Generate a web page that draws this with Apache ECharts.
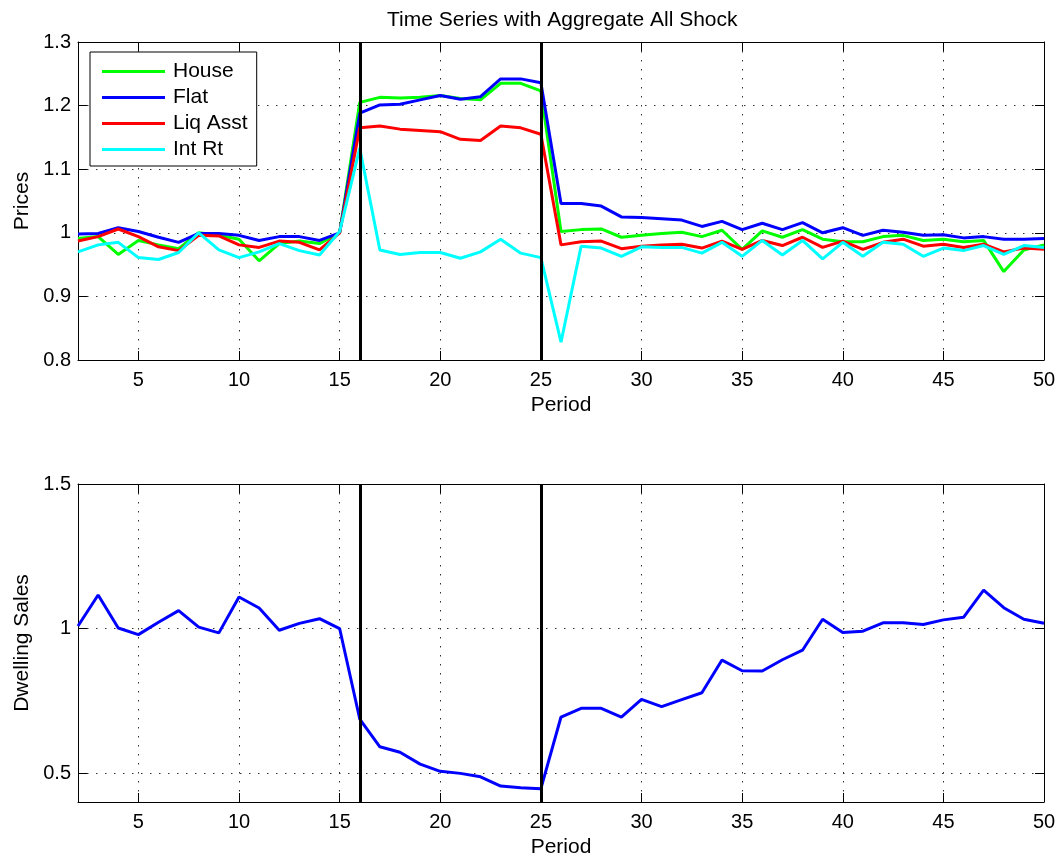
<!DOCTYPE html>
<html>
<head>
<meta charset="utf-8">
<script src="https://cdn.jsdelivr.net/npm/echarts@6/dist/echarts.min.js"></script>
<style>html,body{margin:0;padding:0;background:#fff}#c{width:1062px;height:860px}</style>
</head>
<body>
<div id="c"></div>
<script>
const periods = [2,3,4,5,6,7,8,9,10,11,12,13,14,15,16,17,18,19,20,21,22,23,24,25,26,27,28,29,30,31,32,33,34,35,36,37,38,39,40,41,42,43,44,45,46,47,48,49,50];
const house = [0.991,0.994,0.966,0.988,0.981,0.975,1.000,0.996,0.990,0.956,0.983,0.987,0.983,1.000,
  1.205,1.213,1.212,1.213,1.216,1.211,1.209,1.235,1.235,1.223,
  1.002,1.005,1.006,0.993,0.996,0.999,1.001,0.994,1.004,
  0.974,1.003,0.993,1.005,0.990,0.986,0.986,0.994,0.996,0.988,0.990,0.986,0.988,0.939,0.973,0.981];
const flat = [0.998,0.999,1.008,1.002,0.993,0.985,0.999,0.999,0.996,0.988,0.994,0.994,0.988,1.000,
  1.188,1.201,1.202,1.209,1.216,1.210,1.214,1.242,1.242,1.236,
  1.046,1.046,1.042,1.025,1.024,1.022,1.020,1.010,1.018,
  1.005,1.015,1.005,1.016,1.000,1.008,0.996,1.004,1.001,0.996,0.997,0.992,0.994,0.990,0.990,0.991];
const liqAsst = [0.987,0.994,1.006,0.994,0.978,0.972,0.996,0.995,0.981,0.977,0.987,0.985,0.973,1.000,
  1.165,1.168,1.163,1.161,1.159,1.147,1.145,1.168,1.165,1.155,
  0.981,0.986,0.987,0.975,0.979,0.981,0.982,0.976,0.987,
  0.974,0.988,0.980,0.993,0.977,0.987,0.974,0.985,0.990,0.979,0.982,0.977,0.982,0.970,0.976,0.974];
const intRt = [0.970,0.981,0.985,0.961,0.958,0.969,1.000,0.973,0.961,0.970,0.983,0.972,0.965,1.002,
  1.133,0.973,0.966,0.969,0.969,0.960,0.970,0.990,0.968,0.961,
  0.828,0.979,0.976,0.963,0.978,0.977,0.977,0.968,0.985,
  0.963,0.988,0.965,0.988,0.959,0.985,0.963,0.985,0.982,0.963,0.976,0.972,0.980,0.966,0.980,0.977];
const dwellingSales = [1.009,1.116,1.002,0.979,1.022,1.062,1.005,0.985,1.109,1.071,0.994,1.018,1.034,1.000,
  0.687,0.591,0.572,0.531,0.506,0.499,0.487,0.455,0.449,0.446,
  0.694,0.724,0.724,0.694,0.755,0.730,0.754,0.778,0.891,
  0.854,0.853,0.892,0.925,1.032,0.986,0.991,1.020,1.020,1.014,1.030,1.039,1.133,1.072,1.032,1.018];
const seriesNames = ['House','Flat','Liq Asst','Int Rt'];
const seriesColors = ['#00ff00','#0000ff','#ff0000','#00ffff'];
const shockPeriods = [16, 25];
const xTicks = [5,10,15,20,25,30,35,40,45,50];
const priceTicks = [0.8,0.9,1,1.1,1.2,1.3];
const salesTicks = [0.5, 1, 1.5];

const FONT = "'Liberation Sans', Arial, Helvetica, sans-serif";
const chart = echarts.init(document.getElementById('c'));

const pairs = arr => periods.map((p, i) => [p, arr[i]]);
const gridLine = {show:true, lineStyle:{color:'#333', type:[1.5,7.5], width:1}};
const axisLine = {show:true, onZero:false, lineStyle:{color:'#000', width:1}};
const tick = (vals) => ({show:true, inside:true, length:9, lineStyle:{color:'#000'}, customValues: vals});
const label = (vals, m) => ({show:true, color:'#000', fontSize:20, fontFamily:FONT, margin:m, customValues: vals});

function xAx(gi, main) {
  return {
    type:'value', gridIndex:gi, min:2, max:50, position: main ? 'bottom' : 'top',
    axisLine, axisTick: tick(xTicks),
    axisLabel: main ? label(xTicks, 10) : {show:false},
    splitLine: main ? gridLine : {show:false},
    name: main ? 'Period' : '', nameLocation:'middle', nameGap:35,
    nameTextStyle:{fontSize:21, color:'#000', fontFamily:FONT}
  };
}
function yAx(gi, main, name, min, max, vals) {
  return {
    type:'value', gridIndex:gi, min, max, position: main ? 'left' : 'right',
    axisLine, axisTick: tick(vals),
    axisLabel: main ? label(vals, 7) : {show:false},
    splitLine: main ? gridLine : {show:false},
    name: main ? name : '', nameLocation:'middle', nameGap:45,
    nameTextStyle:{fontSize:21, color:'#000', fontFamily:FONT}
  };
}

const shockLine = {
  silent:true, symbol:'none', animation:false,
  label:{show:false},
  lineStyle:{color:'#000', width:3, type:'solid'},
  data: shockPeriods.map(p => ({xAxis:p}))
};

const priceArrays = [house, flat, liqAsst, intRt];
const series = priceArrays.map((arr, i) => ({
  name: seriesNames[i], type:'line', xAxisIndex:0, yAxisIndex:0,
  data: pairs(arr), showSymbol:false, symbol:'none',
  lineStyle:{width:3, color:seriesColors[i]}, itemStyle:{color:seriesColors[i]},
  animation:false, z:2
}));
series[series.length-1].markLine = shockLine;
series.push({
  name:'Dwelling Sales', type:'line', xAxisIndex:1, yAxisIndex:1,
  data: pairs(dwellingSales), showSymbol:false, symbol:'none',
  lineStyle:{width:3, color:'#0000ff'}, itemStyle:{color:'#0000ff'},
  animation:false, markLine: shockLine, z:2
});

chart.setOption({
  backgroundColor:'#fff',
  animation:false,
  textStyle:{fontFamily:FONT},
  title:{text:'Time Series with Aggregate All Shock', left:382, top:5,
    textStyle:{fontSize:21, fontWeight:'normal', color:'#000', fontFamily:FONT}},
  legend:{
    data: seriesNames, left:90, top:52, orient:'vertical', icon:'rect',
    itemWidth:63, itemHeight:3, itemGap:5, padding:[9,9,6,12],
    borderColor:'#000', borderWidth:1, backgroundColor:'#fff',
    textStyle:{fontSize:21, color:'#000', fontFamily:FONT, padding:[0,0,0,3]}
  },
  grid:[
    {left:78, top:42, width:966, height:318},
    {left:78, top:484, width:966, height:318}
  ],
  xAxis:[xAx(0,true), xAx(1,true), xAx(0,false), xAx(1,false)],
  yAxis:[
    yAx(0,true,'Prices',0.8,1.3,priceTicks),
    yAx(1,true,'Dwelling Sales',0.4,1.5,salesTicks),
    yAx(0,false,'',0.8,1.3,priceTicks),
    yAx(1,false,'',0.4,1.5,salesTicks)
  ],
  series
});
</script>
</body>
</html>
